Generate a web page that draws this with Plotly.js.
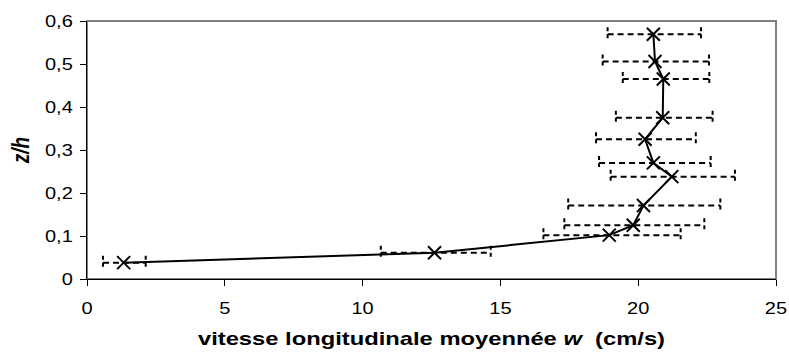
<!DOCTYPE html>
<html>
<head>
<meta charset="utf-8">
<script src="https://cdn.plot.ly/plotly-3.0.1.min.js"></script>
<style>html,body{margin:0;padding:0;background:#fff;}#chart{width:789px;height:354px;}</style>
</head>
<body>
<div id="chart"></div>
<script>
// Data
const zh    = [0.038, 0.061, 0.102, 0.125, 0.171, 0.238, 0.270, 0.325, 0.375, 0.465, 0.506, 0.569];
const w     = [1.33, 12.61, 18.95, 19.82, 20.19, 21.22, 20.55, 20.25, 20.89, 20.91, 20.61, 20.55];
const wLow  = [0.58, 10.66, 16.56, 17.32, 17.46, 19.00, 18.58, 18.47, 19.19, 19.44, 18.71, 18.89];
const wHigh = [2.13, 14.65, 21.54, 22.40, 22.98, 23.51, 22.63, 22.09, 22.70, 22.58, 22.57, 22.28];
const xTicks = [0, 5, 10, 15, 20, 25];
const yTicks = [0, 0.1, 0.2, 0.3, 0.4, 0.5, 0.6];

const capHalf = 0.0163;
const barX = [], barY = [], capX = [], capY = [];
for (let i = 0; i < zh.length; i++) {
  barX.push(wLow[i], wHigh[i], null); barY.push(zh[i], zh[i], null);
  capX.push(wLow[i], wLow[i], null, wHigh[i], wHigh[i], null);
  capY.push(zh[i] + capHalf, zh[i] - capHalf, null, zh[i] + capHalf, zh[i] - capHalf, null);
}

const traces = [
  {x: barX, y: barY, mode: 'lines', line: {color: '#000', width: 2, dash: '6px,4px'}, hoverinfo: 'skip'},
  {x: capX, y: capY, mode: 'lines', line: {color: '#000', width: 2, dash: '4px,3px'}, hoverinfo: 'skip'},
  {x: w, y: zh, mode: 'lines+markers', line: {color: '#000', width: 2},
   marker: {symbol: 'x-thin-open', size: 13, color: '#000', line: {color: '#000', width: 2}}}
];

const font = {family: 'Liberation Sans, Arial, sans-serif', color: '#000'};
const layout = {
  width: 789, height: 354,
  margin: {l: 87, r: 13, t: 21, b: 75},
  paper_bgcolor: '#fff', plot_bgcolor: '#fff',
  showlegend: false,
  separators: ', ',
  font: Object.assign({size: 16}, font),
  xaxis: {
    range: [0, 25], tickvals: xTicks, ticks: 'outside', ticklen: 6, tickcolor: '#000',
    showline: true, linecolor: '#000', linewidth: 1, showgrid: false, zeroline: false,
    tickfont: Object.assign({size: 16}, font), ticklabelstandoff: 9,
    title: {text: '<b>vitesse longitudinale moyennée <i>w</i>  (cm/s)</b>', font: Object.assign({size: 19}, font), standoff: 15}
  },
  yaxis: {
    range: [0, 0.6], tickvals: yTicks, ticks: 'outside', ticklen: 6, tickcolor: '#000',
    showline: true, linecolor: '#000', linewidth: 1, showgrid: false, zeroline: false,
    tickfont: Object.assign({size: 16}, font), ticklabelstandoff: 4,
    title: {text: '<b><i>z/h</i></b>', font: Object.assign({size: 19}, font), standoff: 17}
  },
  shapes: [{type: 'rect', xref: 'paper', yref: 'paper', x0: 0, x1: 1, y0: 0, y1: 1,
            line: {color: '#808080', width: 2}, layer: 'below'}]
};

// The reference image is horizontally stretched (~1.25x); stretch the text the same way.
function stretchText() {
  const s = 1.25;
  document.querySelectorAll('.xtick text, .ytick text, .g-xtitle text').forEach(t => {
    const bb = t.getBBox();
    const a = t.getAttribute('text-anchor') || 'start';
    const cx = a === 'middle' ? bb.x + bb.width / 2 : (a === 'end' ? bb.x + bb.width : bb.x);
    const tr = t.getAttribute('transform') || '';
    t.setAttribute('transform', tr + ' translate(' + cx + ',0) scale(' + s + ',1) translate(' + (-cx) + ',0)');
  });
  document.querySelectorAll('.g-ytitle text').forEach(t => {
    const bb = t.getBBox();
    const cy = bb.y + bb.height / 2;
    const tr = t.getAttribute('transform') || '';
    t.setAttribute('transform', tr + ' translate(0,' + cy + ') scale(1,' + s + ') translate(0,' + (-cy) + ')');
  });
}

Plotly.newPlot('chart', traces, layout, {staticPlot: true, displayModeBar: false}).then(stretchText);
</script>
</body>
</html>
